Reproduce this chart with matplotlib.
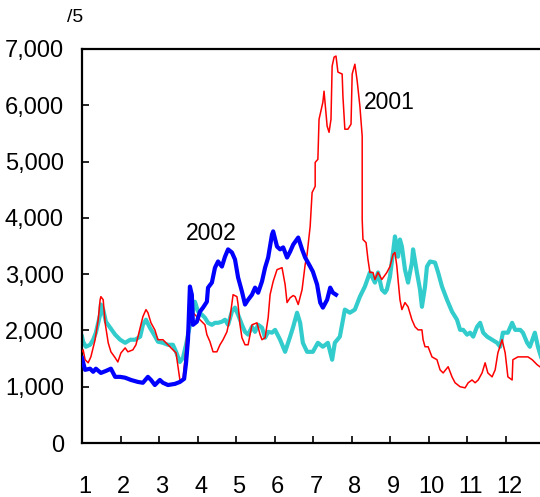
import matplotlib
matplotlib.use("Agg")
import matplotlib.pyplot as plt
import matplotlib.transforms as mtransforms
from matplotlib.ticker import FuncFormatter

plt.rcParams['font.family'] = ['Liberation Sans Narrow', 'Liberation Sans', 'DejaVu Sans']

# x = month position (1 = start of Jan), y = price
months = [1, 2, 3, 4, 5, 6, 7, 8, 9, 10, 11, 12]
yticks = [0, 1000, 2000, 3000, 4000, 5000, 6000, 7000]

x2001 = [1.00, 1.03, 1.08, 1.16, 1.23, 1.34, 1.42, 1.47, 1.49, 1.55, 1.60, 1.68, 1.75, 1.86, 1.93,
         2.01, 2.12, 2.19, 2.32, 2.40, 2.51, 2.58, 2.66, 2.71, 2.79, 2.89, 2.97, 3.10, 3.23, 3.36,
         3.44, 3.49, 3.54, 3.62, 3.67, 3.72, 3.80, 3.85, 3.93, 4.06, 4.11, 4.19, 4.24, 4.32, 4.40,
         4.50, 4.58, 4.66, 4.76, 4.84, 4.92, 5.02, 5.05, 5.10, 5.15, 5.23, 5.31, 5.41, 5.54, 5.62,
         5.67, 5.75, 5.83, 5.88, 5.96, 6.06, 6.19, 6.27, 6.32, 6.40, 6.48, 6.53, 6.61, 6.71, 6.79,
         6.84, 6.92, 6.97, 7.05, 7.05, 7.12, 7.15, 7.25, 7.28, 7.36, 7.41, 7.46, 7.49, 7.54, 7.59,
         7.64, 7.75, 7.77, 7.82, 7.90, 7.98, 8.01, 8.08, 8.14, 8.21, 8.27, 8.27, 8.29, 8.37, 8.42,
         8.47, 8.55, 8.60, 8.68, 8.78, 8.91, 8.99, 9.07, 9.12, 9.17, 9.20, 9.25, 9.30, 9.38, 9.46,
         9.56, 9.64, 9.72, 9.82, 9.85, 9.90, 9.98, 10.08, 10.21, 10.29, 10.37, 10.50, 10.60, 10.68,
         10.81, 10.94, 11.02, 11.12, 11.20, 11.28, 11.38, 11.46, 11.53, 11.64, 11.72, 11.79, 11.90,
         11.98, 12.05, 12.16, 12.18, 12.31, 12.44, 12.57, 12.68, 12.81, 12.88]
y2001 = [1620, 1655, 1480, 1425, 1530, 1835, 2190, 2545, 2600, 2545, 2135, 1780, 1620, 1515, 1440,
         1600, 1690, 1620, 1655, 1745, 2050, 2245, 2370, 2315, 2135, 2010, 1835, 1835, 1745, 1655,
         1600, 1355, 1120, 1120, 1480, 1925, 2155, 2335, 2280, 2190, 2155, 2100, 1925, 1800, 1620,
         1620, 1745, 1835, 1975, 2225, 2635, 2600, 2460, 2100, 1870, 1745, 1745, 2100, 2135, 1925,
         1835, 1870, 2225, 2635, 2870, 3080, 3115, 2815, 2495, 2580, 2620, 2600, 2460, 2725, 3170,
         3350, 3850, 4450, 4560, 4985, 5040, 5750, 6055, 6250, 5630, 5520, 5750, 6695, 6855, 6875,
         6590, 6555, 6160, 5575, 5575, 5665, 6555, 6730, 6430, 5985, 5450, 3970, 3615, 3560, 3260,
         3030, 3030, 2905, 3030, 2905, 3030, 3135, 3350, 3385, 3135, 2905, 2545, 2370, 2495, 2420,
         2190, 2065, 2010, 2010, 1835, 1710, 1710, 1530, 1480, 1300, 1245, 1355, 1175, 1070,
         1000, 980, 1070, 1120, 1070, 1120, 1245, 1425, 1245, 1175, 1300, 1600, 1835,
         1600, 1175, 1120, 1480, 1530, 1530, 1530, 1480, 1390, 1355]

x2002 = [1.00, 1.08, 1.21, 1.29, 1.36, 1.49, 1.62, 1.75, 1.86, 1.99, 2.12, 2.27, 2.45, 2.58, 2.71,
         2.79, 2.89, 3.02, 3.10, 3.23, 3.41, 3.54, 3.65, 3.70, 3.75, 3.80, 3.85, 3.88, 3.98, 4.06,
         4.14, 4.24, 4.27, 4.37, 4.45, 4.53, 4.63, 4.71, 4.79, 4.89, 4.97, 5.05, 5.15, 5.23, 5.31,
         5.41, 5.49, 5.57, 5.67, 5.75, 5.83, 5.93, 5.96, 6.06, 6.14, 6.22, 6.32, 6.40, 6.48, 6.61,
         6.71, 6.79, 6.92, 6.99, 7.10, 7.18, 7.25, 7.36, 7.44, 7.51, 7.59]
y2002 = [1510, 1300, 1320, 1265, 1320, 1245, 1280, 1320, 1175, 1175, 1160, 1120, 1085, 1070, 1175,
         1120, 1030, 1120, 1070, 1030, 1050, 1085, 1140, 1425, 1835, 2780, 2635, 2100, 2155, 2335,
         2405, 2510, 2760, 2850, 3115, 3225, 3135, 3310, 3440, 3385, 3260, 2940, 2690, 2460, 2545,
         2635, 2760, 2670, 2870, 3115, 3295, 3705, 3760, 3490, 3440, 3475, 3295, 3400, 3525, 3650,
         3440, 3295, 3135, 3045, 2815, 2495, 2405, 2545, 2760, 2670, 2635]

x_avg = [1.00, 1.03, 1.10, 1.21, 1.29, 1.36, 1.47, 1.49, 1.55, 1.62, 1.73, 1.86, 1.99, 2.12, 2.25,
         2.38, 2.51, 2.58, 2.66, 2.76, 2.84, 2.97, 3.10, 3.23, 3.36, 3.44, 3.54, 3.62, 3.70, 3.75,
         3.83, 3.93, 4.01, 4.11, 4.19, 4.27, 4.37, 4.45, 4.53, 4.63, 4.71, 4.79, 4.89, 4.97, 5.05,
         5.15, 5.23, 5.31, 5.41, 5.49, 5.57, 5.67, 5.75, 5.83, 5.93, 6.01, 6.14, 6.27, 6.40, 6.48,
         6.58, 6.66, 6.73, 6.84, 6.99, 7.12, 7.25, 7.38, 7.49, 7.56, 7.69, 7.82, 7.95, 8.08, 8.21,
         8.34, 8.47, 8.60, 8.68, 8.78, 8.86, 8.91, 8.99, 9.07, 9.12, 9.17, 9.20, 9.25, 9.30, 9.38,
         9.46, 9.56, 9.59, 9.69, 9.77, 9.82, 9.90, 9.95, 10.03, 10.16, 10.24, 10.34, 10.47, 10.60,
         10.73, 10.81, 10.89, 10.99, 11.07, 11.15, 11.25, 11.33, 11.41, 11.51, 11.64, 11.77, 11.85,
         11.92, 12.05, 12.16, 12.24, 12.37, 12.44, 12.55, 12.62, 12.75, 12.83, 12.91]
y_avg = [1890, 1800, 1710, 1745, 1835, 1960, 2280, 2460, 2370, 2155, 2050, 1925, 1835, 1780, 1835,
         1835, 1890, 2100, 2190, 2050, 1960, 1800, 1780, 1745, 1745, 1620, 1440, 1515, 1745, 1925,
         2190, 2510, 2335, 2280, 2225, 2135, 2100, 2135, 2135, 2155, 2190, 2100, 2335, 2405, 2280,
         2100, 1975, 1925, 2065, 1975, 2100, 2050, 1870, 1975, 1960, 2010, 1835, 1620, 1890, 2065,
         2315, 2135, 1780, 1620, 1620, 1780, 1710, 1780, 1480, 1780, 1890, 2370, 2315, 2370, 2600,
         2780, 3030, 2850, 3030, 2725, 2670, 2725, 2955, 3385, 3670, 3490, 3310, 3615, 3490, 3080,
         2850, 3205, 3440, 3030, 2725, 2420, 2780, 3135, 3225, 3205, 3030, 2780, 2545, 2335,
         2190, 2010, 2010, 1925, 1960, 1890, 2065, 2135, 1960, 1890, 1835, 1780, 1710,
         1960, 1960, 2135, 2010, 2010, 1960, 1780, 1710, 1960, 1710, 1530]

fig = plt.figure(figsize=(5.4, 4.97), dpi=100)
ax = fig.add_axes([82 / 540, 1 - 443 / 497, 462.5 / 540, 394 / 497])

ax.plot(x_avg, y_avg, color='#33cccc', lw=3.0, zorder=2)
ax.plot(x2001, y2001, color='#ff0000', lw=1.1, zorder=3)
ax.plot(x2002, y2002, color='#0000ff', lw=3.0, zorder=4)

ax.set_xlim(1, 13)
ax.set_ylim(0, 7000)
ax.set_xticks(months)
ax.set_yticks(yticks)
ax.yaxis.set_major_formatter(FuncFormatter(lambda v, p: f"{int(v):,}"))

ax.spines['right'].set_visible(False)
for side in ['left', 'bottom', 'top']:
    ax.spines[side].set_linewidth(1.6)

ax.tick_params(axis='both', direction='in', length=5, width=1.2)
ax.tick_params(axis='y', labelsize=17, pad=13)
ax.tick_params(axis='x', labelsize=17, pad=24)

# x labels sit a little right of the ticks
shift = mtransforms.ScaledTranslation(3 / 100, 0, fig.dpi_scale_trans)
for lab in ax.get_xticklabels():
    lab.set_transform(lab.get_transform() + shift)

ax.text(4.35, 3720, '2002', fontsize=16.5, ha='center', va='center')
ax.text(8.97, 6055, '2001', fontsize=16.5, ha='center', va='center')
fig.text(75 / 540, 1 - 17 / 497, '/5', fontsize=14, ha='center', va='center')

fig.savefig('out.png', dpi=100)
